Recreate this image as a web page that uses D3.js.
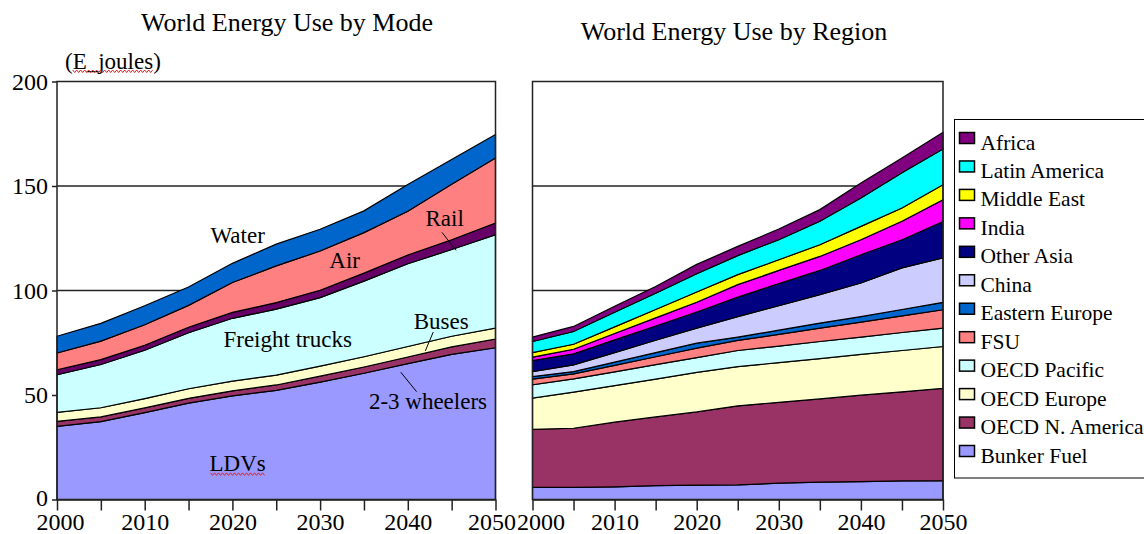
<!DOCTYPE html>
<html>
<head>
<meta charset="utf-8">
<script src="https://cdn.jsdelivr.net/npm/d3@7"></script>
<style>
body { margin: 0; background: #fff; }
svg { font-family: "Liberation Serif", "Times New Roman", serif; }
</style>
</head>
<body>
<svg id="chart" width="1144" height="534"></svg>
<script>
const years = [2000, 2005, 2010, 2015, 2020, 2025, 2030, 2035, 2040, 2045, 2050]
const yTicks = [0, 50, 100, 150, 200]
const gridValues = [100, 150]

// by mode (EJ), bottom to top
const modes = ["LDVs", "2-3 wheelers", "Buses", "Freight trucks", "Rail", "Air", "Water"]
const ldvs = [35.0, 37.3, 41.6, 46.1, 49.6, 52.2, 56.2, 60.4, 65.0, 69.4, 72.6]
const wheelers = [2.4, 2.2, 2.2, 2.3, 2.4, 2.6, 2.8, 3.0, 3.2, 3.6, 4.2]
const buses = [4.3, 4.4, 4.5, 4.6, 4.6, 4.7, 4.8, 4.9, 5.0, 5.1, 5.2]
const freight = [18.0, 20.7, 23.1, 26.8, 30.1, 31.6, 32.8, 36.2, 39.6, 41.5, 44.7]
const rail = [2.4, 2.3, 2.4, 2.6, 2.8, 3.1, 3.5, 3.8, 4.2, 4.7, 5.6]
const air = [8.0, 8.9, 9.8, 10.5, 14.3, 17.6, 18.8, 19.4, 20.9, 26.5, 31.1]
const water = [8.0, 8.5, 9.1, 8.8, 9.2, 10.4, 10.4, 10.4, 12.8, 11.9, 11.2]

// by region (EJ), bottom to top
const regions = ["Bunker Fuel", "OECD N. America", "OECD Europe", "OECD Pacific", "FSU", "Eastern Europe",
    "China", "Other Asia", "India", "Middle East", "Latin America", "Africa"]
const bunker = [5.8, 5.8, 6.0, 6.6, 6.9, 7.0, 7.8, 8.3, 8.6, 8.9, 9.0]
const oecdNA = [27.8, 28.3, 31.0, 32.9, 35.0, 37.8, 38.7, 39.8, 41.3, 42.6, 44.2]
const oecdEurope = [14.9, 17.3, 17.5, 18.1, 18.9, 18.8, 19.0, 19.3, 19.5, 19.8, 20.0]
const oecdPacific = [6.4, 6.3, 6.6, 6.9, 7.1, 7.7, 7.9, 8.2, 8.3, 8.6, 8.8]
const fsu = [2.7, 2.4, 3.1, 3.8, 4.5, 4.8, 5.6, 6.4, 7.2, 8.0, 8.8]
const easternEurope = [1.2, 1.1, 1.5, 2.0, 2.4, 1.6, 2.0, 2.4, 2.6, 3.0, 3.5]
const china = [2.4, 3.2, 4.6, 5.9, 7.2, 9.8, 11.7, 13.6, 16.1, 19.9, 21.3]
const otherAsia = [5.3, 5.3, 6.1, 6.8, 7.7, 9.3, 10.6, 11.6, 13.5, 13.5, 17.4]
const india = [1.6, 2.2, 3.0, 3.9, 4.7, 6.0, 6.3, 6.7, 7.2, 8.8, 10.4]
const middleEast = [2.2, 2.4, 3.2, 4.0, 4.9, 4.8, 5.1, 5.6, 6.4, 6.4, 7.2]
const latinAmerica = [5.3, 6.1, 7.0, 7.8, 8.7, 9.1, 9.6, 11.2, 13.6, 16.8, 17.1]
const africa = [2.1, 2.4, 2.9, 3.2, 4.5, 4.4, 5.1, 5.6, 7.1, 7.1, 8.0]

const modeSeries = [ldvs, wheelers, buses, freight, rail, air, water]
const regionSeries = [bunker, oecdNA, oecdEurope, oecdPacific, fsu, easternEurope,
    china, otherAsia, india, middleEast, latinAmerica, africa]

const modeColors = ["#9999ff", "#993366", "#ffffcc", "#ccffff", "#660066", "#ff8080", "#0066cc"]
const regionColors = ["#9999ff", "#993366", "#ffffcc", "#ccffff", "#ff8080", "#0066cc",
    "#ccccff", "#000080", "#ff00ff", "#ffff00", "#00ffff", "#800080"]

// annotation spots, in chart units
const modeLabels = [
    { text: "Water", year: 2020.6, v: 122.9 },
    { text: "Air", year: 2032.8, v: 110.9 },
    { text: "Rail", year: 2044.2, v: 131.0 },
    { text: "Freight trucks", year: 2026.3, v: 73.1 },
    { text: "Buses", year: 2043.8, v: 81.7 },
    { text: "2-3 wheelers", year: 2042.3, v: 43.4 },
    { text: "LDVs", year: 2020.6, v: 13.7 }
]
const leaders = [
    [[2043.9, 127.8], [2045.5, 119.2]],
    [[2042.9, 80.1], [2042.0, 71.1]],
    [[2039.2, 60.9], [2041.0, 51.6]]
]

let svg = d3.select("#chart")

let y = d3.scaleLinear().domain([0, 200]).range([499.5, 81.5])

function table(keys, series) {
    return years.map((yr, i) => {
        let row = { year: yr }
        keys.forEach((k, j) => row[k] = series[j][i])
        return row
    })
}

function panel(x, keys, series, colors) {
    let g = svg.append("g")

    g.selectAll(".grid")
        .data(gridValues)
        .join("line")
        .attr("x1", x.range()[0])
        .attr("x2", x.range()[1])
        .attr("y1", d => y(d))
        .attr("y2", d => y(d))
        .attr("stroke", "#222")
        .attr("stroke-width", 1.5)

    let stacked = d3.stack().keys(keys)(table(keys, series))
    let area = d3.area()
        .x(d => x(d.data.year))
        .y0(d => y(d[0]))
        .y1(d => y(d[1]))

    g.selectAll(".layer")
        .data(stacked)
        .join("path")
        .attr("d", area)
        .attr("fill", (d, i) => colors[i])
        .attr("stroke", "#000")
        .attr("stroke-width", 1.2)

    g.append("rect")
        .attr("x", x.range()[0])
        .attr("y", y(200))
        .attr("width", x.range()[1] - x.range()[0])
        .attr("height", y(0) - y(200))
        .attr("fill", "none")
        .attr("stroke", "#222")
        .attr("stroke-width", 1.5)

    let axisB = d3.axisBottom(x)
        .tickValues(years)
        .tickSizeInner(11)
        .tickSizeOuter(0)
        .tickPadding(2)
        .tickFormat(d => d % 10 === 0 ? d : "")

    let ax = g.append("g")
        .attr("transform", `translate(0,${y(0)})`)
        .call(axisB)
    ax.select(".domain").attr("stroke", "#222").attr("stroke-width", 1.5)
    ax.selectAll("line").attr("stroke", "#222").attr("stroke-width", 1.5)
    ax.selectAll("text").attr("font-size", 24).attr("fill", "#000")
        .attr("font-family", "Liberation Serif")
    return ax
}

let xMode = d3.scaleLinear().domain([2000, 2050]).range([57, 495.5])
let xRegion = d3.scaleLinear().domain([2000, 2050]).range([532.5, 943])

let axMode = panel(xMode, modes, modeSeries, modeColors)
let axRegion = panel(xRegion, regions, regionSeries, regionColors)
axMode.selectAll("text").filter(d => d === 2050).attr("dx", -4)
axMode.selectAll("text").filter(d => d === 2000).attr("dx", 3)
axRegion.selectAll("text").filter(d => d === 2000).attr("dx", 8)

let axisL = d3.axisLeft(y)
    .tickValues(yTicks)
    .tickSizeInner(5)
    .tickSizeOuter(0)
    .tickPadding(4)

let ay = svg.append("g")
    .attr("transform", `translate(${xMode.range()[0]},0)`)
    .call(axisL)
ay.select(".domain").remove()
ay.selectAll("line").attr("stroke", "#222").attr("stroke-width", 1.5)
ay.selectAll("text").attr("font-size", 24).attr("fill", "#000")
    .attr("font-family", "Liberation Serif")
ay.selectAll("text").filter(d => d === 0).attr("dy", "0.25em")

// titles
svg.append("text")
    .attr("x", 287).attr("y", 31)
    .attr("text-anchor", "middle")
    .attr("font-size", 26)
    .text("World Energy Use by Mode")

svg.append("text")
    .attr("x", 734).attr("y", 40)
    .attr("text-anchor", "middle")
    .attr("font-size", 26)
    .text("World Energy Use by Region")

let unit = svg.append("text")
    .attr("x", 65).attr("y", 69)
    .attr("font-size", 23)
    .text("(E_joules)")

function squiggle(x0, x1, yy) {
    let pts = d3.range(x0, x1, 2).map((px, i) => [px, yy + (i % 2 ? 1.5 : -1)])
    svg.append("path")
        .attr("d", d3.line()(pts))
        .attr("fill", "none")
        .attr("stroke", "#e02020")
        .attr("stroke-width", 1)
}

let un = unit.node()
squiggle(65 + un.getSubStringLength(0, 1), 65 + un.getSubStringLength(0, 9), 71)

// annotations on the mode chart
let lbl = svg.append("g")
lbl.selectAll("text")
    .data(modeLabels)
    .join("text")
    .attr("x", d => xMode(d.year))
    .attr("y", d => y(d.v))
    .attr("text-anchor", "middle")
    .attr("font-size", 23)
    .text(d => d.text)

lbl.selectAll("line")
    .data(leaders)
    .join("line")
    .attr("x1", d => xMode(d[0][0]))
    .attr("y1", d => y(d[0][1]))
    .attr("x2", d => xMode(d[1][0]))
    .attr("y2", d => y(d[1][1]))
    .attr("stroke", "#000")
    .attr("stroke-width", 1)

let ldvNode = lbl.selectAll("text").filter(d => d.text === "LDVs").node()
let bb = ldvNode.getBBox()
squiggle(bb.x + 1, bb.x + bb.width - 1, y(13.7) + 3)

// legend
let legend = svg.append("g").attr("transform", "translate(954.5,119.5)")
legend.append("rect")
    .attr("width", 200)
    .attr("height", 358.5)
    .attr("fill", "#fff")
    .attr("stroke", "#000")
    .attr("stroke-width", 1)

let items = regions.map((r, i) => ({ name: r, color: regionColors[i] })).reverse()
let rowY = d3.scalePoint().domain(items.map(d => d.name)).range([30, 343])

let row = legend.selectAll(".item")
    .data(items)
    .join("g")
    .attr("transform", d => `translate(0,${rowY(d.name)})`)

row.append("rect")
    .attr("x", 5)
    .attr("y", -17)
    .attr("width", 15)
    .attr("height", 11)
    .attr("fill", d => d.color)
    .attr("stroke", "#000")
    .attr("stroke-width", 1.5)

row.append("text")
    .attr("x", 26)
    .attr("font-size", 21.5)
    .text(d => d.name)
</script>
</body>
</html>
